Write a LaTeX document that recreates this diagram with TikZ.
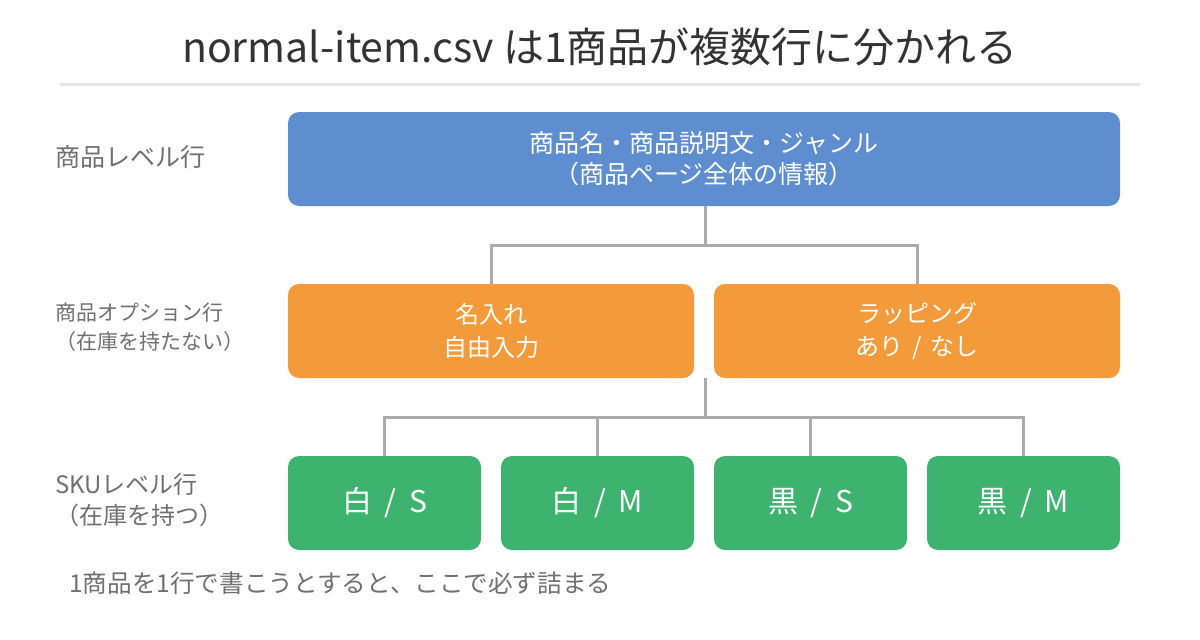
\documentclass[tikz,border=0pt]{standalone}
\usepackage{fontspec}
\setmainfont{Noto Sans CJK JP}
\definecolor{bluebox}{HTML}{5E8ED0}
\definecolor{orangebox}{HTML}{F39A3B}
\definecolor{greenbox}{HTML}{3EB370}
\definecolor{conncol}{HTML}{ABABAB}
\definecolor{sepcol}{HTML}{E6E6E6}
\definecolor{titlecol}{HTML}{333333}
\definecolor{labelcol}{HTML}{707070}
\tikzset{
  box/.style={rectangle, rounded corners=11pt, draw=none, text=white, align=center, minimum height=94pt, inner sep=0pt},
  conn/.style={draw=conncol, line width=3pt},
  lvl/.style={anchor=west, text=labelcol, inner sep=0pt, align=left},
  skutext/.style={font={\fontsize{30}{36}\selectfont\spaceskip=0.42em plus 0pt minus 0pt}}
}
\begin{document}
\begin{tikzpicture}[x=1pt,y=-1pt]
\useasboundingbox (0,0) rectangle (1200,640);
\fill[white] (0,0) rectangle (1200,640);
% title
\node[text=titlecol, inner sep=0pt, font={\fontsize{41}{48}\selectfont}] (title) at (600,47) {normal-item.csv は1商品が複数行に分かれる};
\draw[draw=sepcol, line width=3pt] (60,84) -- (1140,84);
% boxes
\node[box, fill=bluebox, minimum width=832pt, font={\fontsize{25}{31}\selectfont}] (prod) at (704,159)
  {商品名・商品説明文・ジャンル\\（商品ページ全体の情報）};
\node[box, fill=orangebox, minimum width=406pt, font={\fontsize{24}{33}\selectfont}] (opt1) at (491,331)
  {名入れ\\自由入力};
\node[box, fill=orangebox, minimum width=406pt, font={\fontsize{24}{33}\selectfont\spaceskip=0.35em plus 0pt minus 0pt}] (opt2) at (917,331)
  {ラッピング\\あり / なし};
\node[box, fill=greenbox, minimum width=193pt, skutext] (g1) at (384.5,503) {白 / S};
\node[box, fill=greenbox, minimum width=193pt, skutext] (g2) at (597.5,503) {白 / M};
\node[box, fill=greenbox, minimum width=193pt, skutext] (g3) at (810.5,503) {黒 / S};
\node[box, fill=greenbox, minimum width=193pt, skutext] (g4) at (1023.5,503) {黒 / M};
% connectors
\coordinate (j1) at (705,245);
\coordinate (s2) at (705,378);
\coordinate (j2) at (705,417);
\draw[conn] (prod.south -| j1) -- (j1);
\draw[conn] (opt1.north) |- (j1) -| (opt2.north);
\draw[conn] (s2) -- (j2);
\draw[conn] (g1.north) |- (j2) -| (g4.north);
\draw[conn] (g2.north) -- (g2.north |- j2);
\draw[conn] (g3.north) -- (g3.north |- j2);
% level labels
\node[lvl, font={\fontsize{25}{30}\selectfont}] (l1) at (55,157) {商品レベル行};
\node[lvl, font={\fontsize{21}{29}\selectfont}] (l2) at (55,327) {商品オプション行\\（在庫を持たない）};
\node[lvl, font={\fontsize{24}{31}\selectfont}] (l3) at (55,500) {SKUレベル行\\（在庫を持つ）};
% note
\node[lvl, font={\fontsize{24.6}{28}\selectfont}] (note) at (69,583) {1商品を1行で書こうとすると、ここで必ず詰まる};
\end{tikzpicture}
\end{document}
